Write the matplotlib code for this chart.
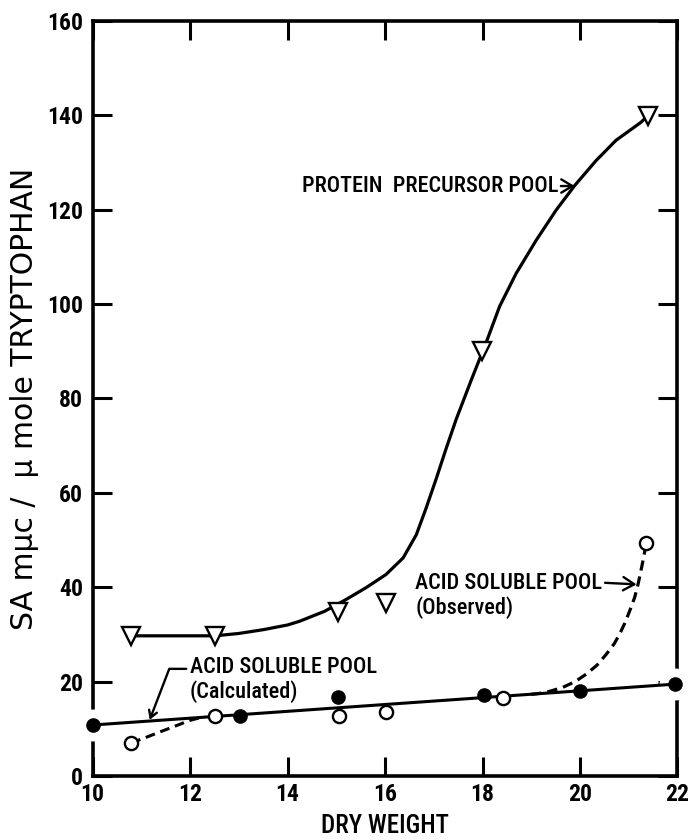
import matplotlib
matplotlib.use("Agg")
import matplotlib.pyplot as plt
from matplotlib import font_manager

# pick a narrow lettering face if one is installed
fonts = font_manager.fontManager.ttflist
names = set(f.name for f in fonts)
stretch = "normal"
narrow = "DejaVu Sans"
for cand in ["Liberation Sans Narrow", "Roboto Condensed", "Open Sans Condensed",
             "DejaVu Sans Condensed", "Noto Sans Condensed"]:
    if cand in names:
        narrow = cand
        break
else:
    if any(f.name == "DejaVu Sans" and f.stretch in ("condensed", "semi-condensed", 87, 75)
           for f in fonts):
        stretch = "condensed"
plt.rcParams["font.family"] = [narrow, "DejaVu Sans"]
plt.rcParams["font.stretch"] = stretch

# protein precursor pool (triangles) and its drawn curve
prot_x = [10.79, 12.51, 15.03, 16.02, 17.98, 21.39]
prot_y = [29.7, 29.7, 34.8, 36.7, 90.0, 139.9]
prot_curve_x = [10.79, 12.51, 13.0, 13.5, 14.0, 14.25, 14.76, 15.2, 15.61, 16.02, 16.37,
                16.64, 16.84, 17.05, 17.25, 17.46, 17.78, 18.08, 18.35, 18.69, 19.1,
                19.51, 19.89, 20.33, 20.74, 21.05, 21.25, 21.39]
prot_curve_y = [29.7, 29.7, 30.2, 31.0, 32.0, 32.8, 34.9, 37.4, 39.9, 42.7, 46.2,
                51.1, 56.7, 63.0, 69.3, 75.6, 84.2, 92.0, 99.5, 106.5, 113.5,
                119.9, 125.1, 130.4, 134.7, 137.0, 138.5, 139.9]

# acid soluble pool, calculated (filled) and observed (open)
calc_x = [10.0, 13.02, 15.03, 18.03, 19.99, 21.95]
calc_y = [10.9, 12.8, 16.8, 17.2, 18.1, 19.4]
calc_line_x = [10.0, 22.0]
calc_line_y = [10.8, 19.5]

obs_x = [10.79, 12.51, 15.05, 16.02, 18.41, 21.36]
obs_y = [7.0, 12.8, 12.7, 13.5, 16.6, 49.3]
obs_low_x = [10.79, 11.1, 11.37, 11.7, 12.0, 12.3]
obs_low_y = [7.0, 8.2, 9.3, 10.6, 11.8, 12.6]
obs_high_x = [19.0, 19.17, 19.4, 19.65, 19.9, 20.13, 20.35, 20.54, 20.7, 20.81,
              20.92, 21.02, 21.12, 21.19, 21.27, 21.36]
obs_high_y = [17.3, 17.5, 18.0, 18.8, 20.0, 21.6, 23.5, 25.8, 28.0, 30.0,
              32.4, 35.0, 37.8, 40.6, 44.5, 49.3]

xticks = [10, 12, 14, 16, 18, 20, 22]
yticks = [0, 20, 40, 60, 80, 100, 120, 140, 160]

fig = plt.figure(figsize=(6.89, 8.40), dpi=100)
ax = fig.add_axes([0.1345, 0.0762, 0.8488, 0.899])

ax.plot(prot_curve_x, prot_curve_y, color="black", lw=2.3, zorder=4,
        solid_capstyle="round", solid_joinstyle="round")
ax.plot(prot_x, prot_y, linestyle="none", marker="v", ms=12.5, mfc="white",
        mec="black", mew=1.7, zorder=6, clip_on=False)

ax.plot(calc_line_x, calc_line_y, color="black", lw=2.2, zorder=4)
ax.plot(obs_low_x, obs_low_y, color="black", lw=2.2, dashes=(3.2, 1.9), zorder=4)
ax.plot(obs_high_x, obs_high_y, color="black", lw=2.3, dashes=(3.2, 1.9), zorder=4,
        solid_joinstyle="round")

# white halo so the spines break round the points sitting on them
ax.plot(calc_x, calc_y, linestyle="none", marker="o", ms=22, mfc="white",
        mec="white", zorder=3, clip_on=False)
ax.plot(calc_x, calc_y, linestyle="none", marker="o", ms=9.5, mfc="black",
        mec="black", zorder=6, clip_on=False)
ax.plot(obs_x, obs_y, linestyle="none", marker="o", ms=9.5, mfc="white",
        mec="black", mew=1.7, zorder=6, clip_on=False)

# labels
arrow = dict(arrowstyle="->,head_length=0.5,head_width=0.3", lw=1.7, color="black",
             shrinkA=0, shrinkB=0)
ax.annotate("PROTEIN  PRECURSOR POOL", xy=(19.89, 125.0), xytext=(19.55, 125.0),
            ha="right", va="center", fontsize=16, fontweight="medium",
            arrowprops=arrow)
ax.annotate("ACID SOLUBLE POOL\n(Observed)", xy=(21.16, 40.6), xytext=(16.62, 38.2),
            ha="left", va="center", fontsize=16, fontweight="medium", linespacing=1.1,
            arrowprops=dict(arrow, relpos=(1.0, 0.78)))
ax.text(11.99, 20.4, "ACID SOLUBLE POOL\n(Calculated)", ha="left", va="center",
        fontsize=16, fontweight="medium", linespacing=1.1)
ax.annotate("", xy=(11.17, 11.9), xytext=(11.92, 22.7),
            arrowprops=dict(arrow, connectionstyle="angle,angleA=0,angleB=69,rad=0"))

ax.set_xlim(10, 22)
ax.set_ylim(0, 160)
ax.set_xticks(xticks)
ax.set_yticks(yticks)
ax.tick_params(direction="in", length=14, width=2.2, top=True, right=True,
               labelsize=17)
ax.tick_params(axis="y", pad=7)
ax.tick_params(axis="x", pad=5)
for lab in ax.get_xticklabels() + ax.get_yticklabels():
    lab.set_fontweight("bold")
for s in ax.spines.values():
    s.set_linewidth(2.6)

ax.set_xlabel("DRY WEIGHT", fontsize=18, fontweight="medium", labelpad=6)
ax.set_ylabel("SA m\u03bcc /  \u03bc mole TRYPTOPHAN", fontsize=21.5,
              family=["DejaVu Sans"], fontstretch="normal", labelpad=6)

fig.savefig("out.png", dpi=100)
